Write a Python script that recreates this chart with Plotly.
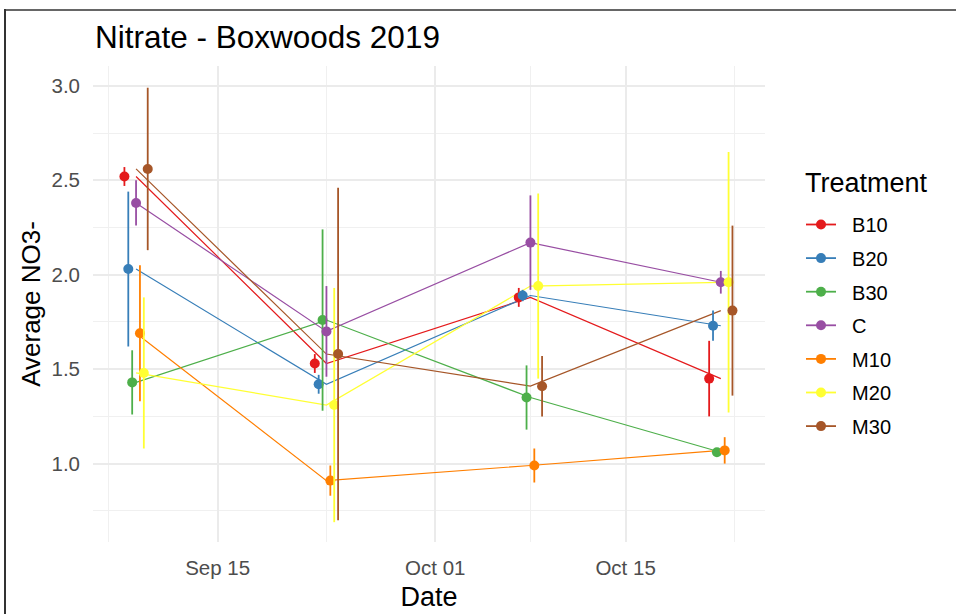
import pandas as pd
import plotly.graph_objects as go

# ---- data ----
dates = ["2019-09-09", "2019-09-23", "2019-10-08", "2019-10-22"]
treatments = ["B10", "B20", "B30", "C", "M10", "M20", "M30"]
colors = ["#E41A1C", "#377EB8", "#4DAF4A", "#984EA3", "#FF7F00", "#FFFF33", "#A65628"]

mean_B10 = [2.52, 1.53, 1.88, 1.45]
mean_B20 = [2.03, 1.42, 1.89, 1.73]
mean_B30 = [1.43, 1.76, 1.35, 1.06]
mean_C = [2.38, 1.70, 2.17, 1.96]
mean_M10 = [1.69, 0.91, 0.99, 1.07]
mean_M20 = [1.48, 1.31, 1.94, 1.96]
mean_M30 = [2.56, 1.58, 1.41, 1.81]

se_B10 = [0.05, 0.05, 0.05, 0.20]
se_B20 = [0.41, 0.05, 0.03, 0.08]
se_B30 = [0.17, 0.48, 0.17, 0.01]
se_C = [0.12, 0.24, 0.25, 0.06]
se_M10 = [0.36, 0.08, 0.09, 0.07]
se_M20 = [0.40, 0.62, 0.49, 0.69]
se_M30 = [0.43, 0.88, 0.16, 0.45]

means = [mean_B10, mean_B20, mean_B30, mean_C, mean_M10, mean_M20, mean_M30]
ses = [se_B10, se_B20, se_B30, se_C, se_M10, se_M20, se_M30]

x_major = ["2019-09-15", "2019-10-01", "2019-10-15"]
x_major_text = ["Sep 15", "Oct 01", "Oct 15"]
x_minor = ["2019-09-07", "2019-09-23", "2019-10-08", "2019-10-23"]

FONT = "Liberation Sans, Arial, sans-serif"
base_dates = pd.to_datetime(dates)
dodge_width_hours = 48.0  # position_dodge width (2 days)
n = len(treatments)

fig = go.Figure()

# connecting lines at the true dates
for t, c, m in zip(treatments, colors, means):
    fig.add_trace(go.Scatter(
        x=base_dates, y=m, mode="lines",
        line=dict(color=c, width=1.2),
        showlegend=False, hoverinfo="skip", legendgroup=t,
    ))

# dodged points with error bars
for i, (t, c, m, s) in enumerate(zip(treatments, colors, means, ses)):
    offset = pd.Timedelta(hours=(i - (n - 1) / 2) * dodge_width_hours / n)
    fig.add_trace(go.Scatter(
        x=base_dates + offset, y=m, mode="markers",
        marker=dict(color=c, size=10),
        error_y=dict(type="data", array=s, visible=True, color=c, thickness=1.8, width=0),
        showlegend=False, legendgroup=t, name=t,
    ))

# legend entries
NBSP = "\u00a0"
for t, c in zip(treatments, colors):
    fig.add_trace(go.Scatter(
        x=[None], y=[None], mode="lines+markers", name=NBSP * 2 + t,
        line=dict(color=c, width=1.8), marker=dict(color=c, size=10),
        legendgroup=t, showlegend=True,
    ))

W, H = 956, 614
L, R, T, B = 93, 191, 66, 72
pw, ph = W - L - R, H - T - B

def px_to_paper_x(px):
    return (px - L) / pw

def px_to_paper_y(py):
    return (H - B - py) / ph

fig.update_layout(
    width=W, height=H,
    margin=dict(l=L, r=R, t=T, b=B, pad=0, autoexpand=False),
    paper_bgcolor="white", plot_bgcolor="white",
    font=dict(family=FONT, color="#000000"),
    title=dict(text="Nitrate - Boxwoods 2019", font=dict(size=31.5, color="#000000", family=FONT),
               x=px_to_paper_x(95), xref="paper", xanchor="left",
               y=1 - 37 / H, yref="container", yanchor="middle"),
    xaxis=dict(
        type="date", range=["2019-09-05 20:00", "2019-10-25 06:00"],
        tickmode="array", tickvals=x_major, ticktext=x_major_text,
        tickfont=dict(size=20.5, color="#4D4D4D", family=FONT),
        showgrid=True, gridcolor="#EBEBEB", gridwidth=1.6,
        minor=dict(tickmode="array", tickvals=x_minor, showgrid=True, gridcolor="#F0F0F0", gridwidth=1),
        zeroline=False, showline=False, ticks="", ticklabelstandoff=11, automargin=False,
        title=dict(text="Date", font=dict(size=27, color="#000000", family=FONT), standoff=9),
    ),
    yaxis=dict(
        range=[0.585, 3.105],
        tickmode="array", tickvals=[1.0, 1.5, 2.0, 2.5, 3.0], ticktext=["1.0", "1.5", "2.0", "2.5", "3.0"],
        tickfont=dict(size=20.5, color="#4D4D4D", family=FONT),
        showgrid=True, gridcolor="#EBEBEB", gridwidth=1.6,
        minor=dict(tickmode="array", tickvals=[0.75, 1.25, 1.75, 2.25, 2.75], showgrid=True,
                   gridcolor="#F0F0F0", gridwidth=1),
        zeroline=False, showline=False, ticks="", ticklabelstandoff=12, automargin=False,
        title=dict(text="Average NO3-", font=dict(size=26, color="#000000", family=FONT), standoff=3),
    ),
    legend=dict(
        font=dict(size=20, color="#000000", family=FONT),
        x=px_to_paper_x(801), xanchor="left", y=px_to_paper_y(205), yanchor="top",
        tracegroupgap=4.6, bgcolor="rgba(0,0,0,0)", itemwidth=30,
    ),
    annotations=[
        dict(text="Treatment", xref="paper", yref="paper", x=px_to_paper_x(803), y=px_to_paper_y(183),
             xanchor="left", yanchor="middle", showarrow=False,
             font=dict(size=27, color="#000000", family=FONT)),
    ],
    shapes=[
        dict(type="line", xref="paper", yref="paper",
             x0=px_to_paper_x(4), x1=px_to_paper_x(W + 5), y0=px_to_paper_y(10), y1=px_to_paper_y(10),
             line=dict(color="#666666", width=2)),
        dict(type="line", xref="paper", yref="paper",
             x0=px_to_paper_x(5), x1=px_to_paper_x(5), y0=px_to_paper_y(9), y1=px_to_paper_y(H + 5),
             line=dict(color="#333333", width=2)),
    ],
)

fig.write_html("out.html")
